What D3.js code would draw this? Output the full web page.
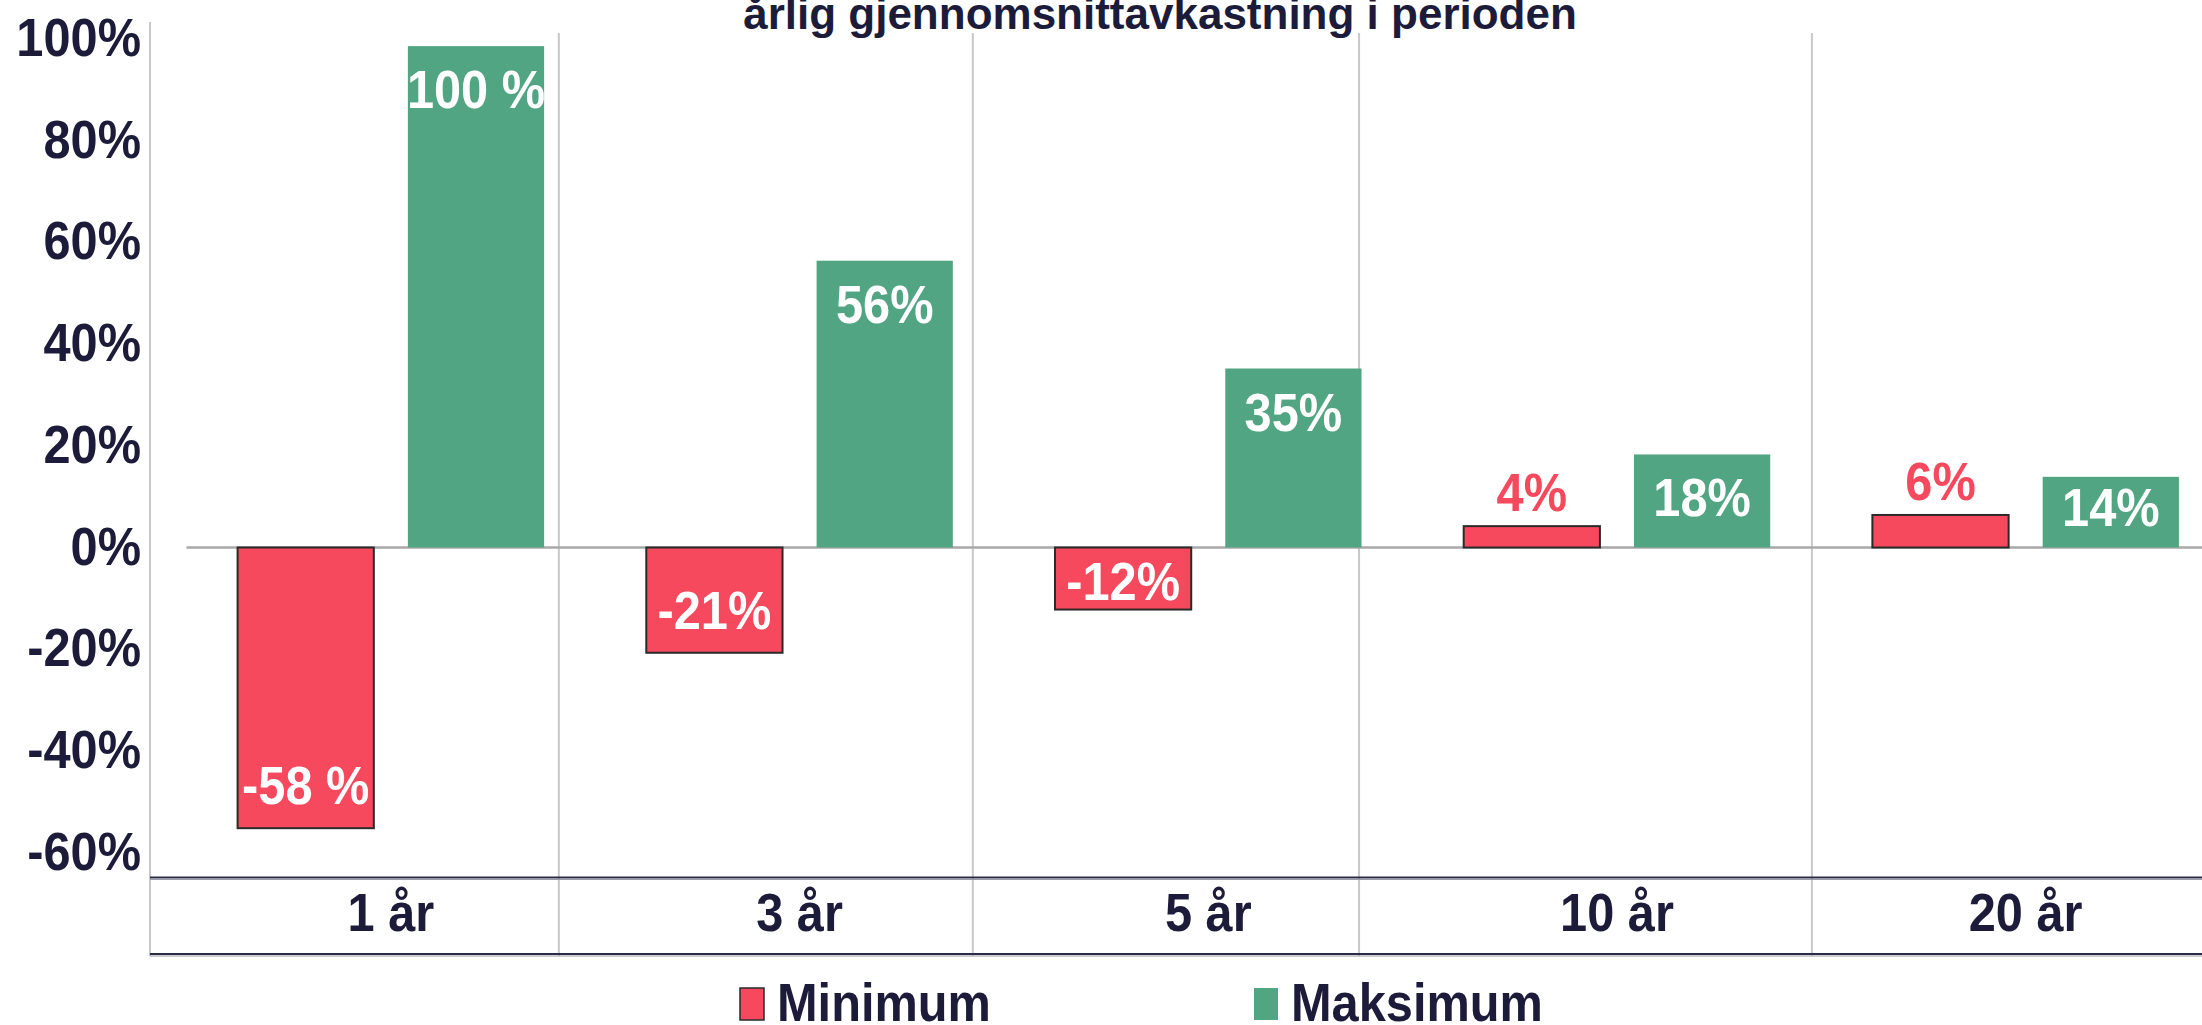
<!DOCTYPE html>
<html>
<head>
<meta charset="utf-8">
<script src="https://cdn.jsdelivr.net/npm/d3@7"></script>
<style>
  html, body { margin: 0; padding: 0; background: #ffffff; overflow: hidden; }
  svg { display: block; }
  text { font-family: "Liberation Sans", Arial, sans-serif; font-weight: bold; }
</style>
</head>
<body>
<svg id="chart" width="2202" height="1025"></svg>
<script>
// ---------------- data ----------------
const title = "årlig gjennomsnittavkastning i perioden";
const categories = ["1 år", "3 år", "5 år", "10 år", "20 år"];
const seriesNames = ["Minimum", "Maksimum"];
const minValues = [-55.2, -20.7, -12.2, 4.2, 6.4];
const maxValues = [98.6, 56.4, 35.2, 18.3, 13.9];
const minLabels = ["-58 %", "-21%", "-12%", "4%", "6%"];
const maxLabels = ["100 %", "56%", "35%", "18%", "14%"];
const yTicks = [-60, -40, -20, 0, 20, 40, 60, 80, 100];
const yTickLabels = ["-60%", "-40%", "-20%", "0%", "20%", "40%", "60%", "80%", "100%"];

// ---------------- layout / style ----------------
const W = 2202, H = 1025;
const plotLeft = 186.5, step = 408.7;
const axisX = 150;
const gridTop = 33, axisTop = 22, frameBottom = 954;
const catAxisY = 877.5;
const dividerUnits = [0.911, 1.924, 2.869, 3.977];
const sx = 0.92;           // horizontal squeeze of the lettering
const ink = "#1c1c3a";
const red = "#F7495E", green = "#52A583";
const fontBig = 53;

const svg = d3.select("#chart");

const x = d3.scaleBand().domain(categories).range([plotLeft, plotLeft + categories.length * step]);
const xSub = d3.scaleBand().domain(seriesNames).range([0, x.bandwidth()]).paddingInner(0.2).paddingOuter(0.3);
const xUnits = d3.scaleLinear().domain([0, categories.length]).range([plotLeft, plotLeft + categories.length * step]);
const y = d3.scaleLinear().domain([-60, 100]).range([852.6, 39]);

function sText(g, str, px, py, size, anchor, fill) {
  return g.append("text")
    .attr("transform", `translate(${px},${py}) scale(${sx},1)`)
    .attr("text-anchor", anchor)
    .attr("font-size", size)
    .attr("fill", fill)
    .text(str);
}

// ---- frame lines ----
svg.append("line").attr("x1", axisX).attr("x2", axisX).attr("y1", axisTop).attr("y2", frameBottom + 2)
  .attr("stroke", "#c8c8c8").attr("stroke-width", 2);
svg.append("g").selectAll("line").data(dividerUnits).join("line")
  .attr("x1", d => xUnits(d)).attr("x2", d => xUnits(d))
  .attr("y1", gridTop).attr("y2", frameBottom + 2)
  .attr("stroke", "#c8c8c8").attr("stroke-width", 2);

// zero line
svg.append("line").attr("x1", plotLeft).attr("x2", W).attr("y1", y(0)).attr("y2", y(0))
  .attr("stroke", "#a8a8a8").attr("stroke-width", 2.5);

// category axis lines (double)
[catAxisY, frameBottom].forEach(yy => {
  svg.append("line").attr("x1", axisX).attr("x2", W).attr("y1", yy).attr("y2", yy)
    .attr("stroke", "#2c2c48").attr("stroke-width", 2);
  svg.append("line").attr("x1", axisX).attr("x2", W).attr("y1", yy + 2).attr("y2", yy + 2)
    .attr("stroke", "#9a9aa8").attr("stroke-width", 1.2);
});

// ---- y tick labels ----
const yg = svg.append("g");
yTicks.forEach((t, i) => sText(yg, yTickLabels[i], 141, y(t) + 17, fontBig, "end", ink));

// ---- bars ----
const rows = categories.map((c, i) => ({
  cat: c,
  items: [
    { s: seriesNames[0], v: minValues[i], label: minLabels[i] },
    { s: seriesNames[1], v: maxValues[i], label: maxLabels[i] }
  ]
}));

const barG = svg.append("g");
rows.forEach(r => {
  r.items.forEach(it => {
    const bx = x(r.cat) + xSub(it.s);
    const top = y(Math.max(0, it.v)), bot = y(Math.min(0, it.v));
    const isMin = it.s === seriesNames[0];
    barG.append("rect")
      .attr("x", bx).attr("y", top)
      .attr("width", xSub.bandwidth()).attr("height", bot - top)
      .attr("fill", isMin ? red : green)
      .attr("stroke", isMin ? "#2a2a2a" : "none")
      .attr("stroke-width", isMin ? 2 : 0);

    const cx = bx + xSub.bandwidth() / 2;
    const h = bot - top;
    let cy, fill = "#ffffff";
    if (isMin && it.v > 0) {
      cy = top - 34; fill = red;
    } else {
      const off = Math.max(29, Math.min(43, h - 41));
      cy = it.v >= 0 ? top + off : bot - off;
    }
    sText(barG, it.label, cx, cy + 19, fontBig, "middle", fill);
  });
});

// ---- category labels ----
const cg = svg.append("g");
categories.forEach(c => sText(cg, c, x(c) + x.bandwidth() / 2, 931, fontBig, "middle", ink));

// ---- title ----
svg.append("text").attr("x", 1160).attr("y", 29).attr("text-anchor", "middle")
  .attr("font-size", 44).attr("fill", ink).text(title);

// ---- legend ----
const legend = [
  { name: seriesNames[0], color: red, stroke: "#2a2a2a", x: 740 },
  { name: seriesNames[1], color: green, stroke: "none", x: 1254 }
];
const lg = svg.append("g");
legend.forEach(l => {
  lg.append("rect").attr("x", l.x).attr("y", 988).attr("width", 24).attr("height", 32)
    .attr("fill", l.color).attr("stroke", l.stroke).attr("stroke-width", 1.5);
  sText(lg, l.name, l.x + 37, 1021, fontBig, "start", ink);
});
</script>
</body>
</html>
